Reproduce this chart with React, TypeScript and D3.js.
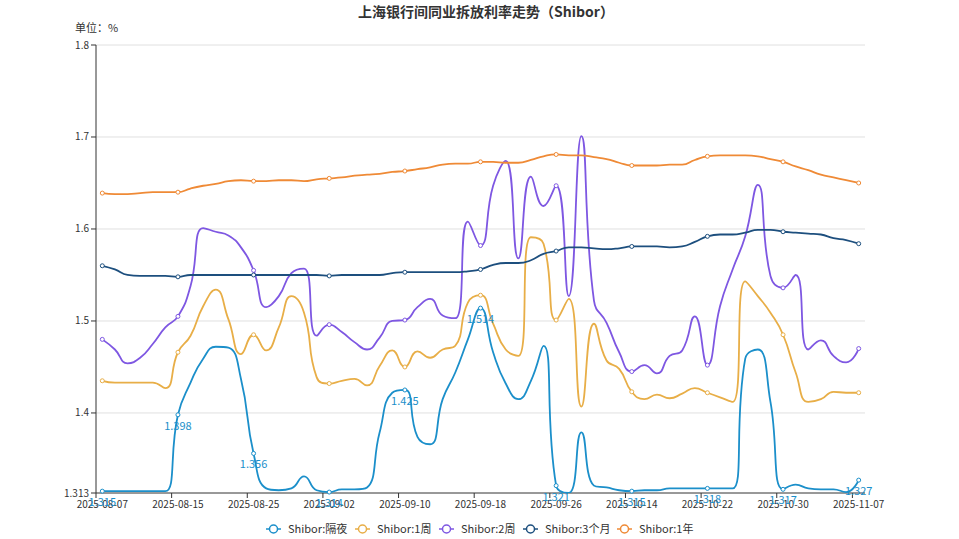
import React from "react";
import * as d3 from "d3";

const dates = [
  "2025-08-07","2025-08-08","2025-08-11","2025-08-12","2025-08-13","2025-08-14","2025-08-15",
  "2025-08-18","2025-08-19","2025-08-20","2025-08-21","2025-08-22","2025-08-25",
  "2025-08-26","2025-08-27","2025-08-28","2025-08-29","2025-09-01","2025-09-02",
  "2025-09-03","2025-09-04","2025-09-05","2025-09-08","2025-09-09","2025-09-10",
  "2025-09-11","2025-09-12","2025-09-15","2025-09-16","2025-09-17","2025-09-18",
  "2025-09-19","2025-09-22","2025-09-23","2025-09-24","2025-09-25","2025-09-26",
  "2025-09-29","2025-09-30","2025-10-09","2025-10-10","2025-10-13","2025-10-14",
  "2025-10-15","2025-10-16","2025-10-17","2025-10-20","2025-10-21","2025-10-22",
  "2025-10-23","2025-10-24","2025-10-27","2025-10-28","2025-10-29","2025-10-30",
  "2025-10-31","2025-11-03","2025-11-04","2025-11-05","2025-11-06","2025-11-07",
];

const overnight = [
  1.315,1.315,1.315,1.315,1.315,1.315,1.398,1.433,1.459,1.472,1.471,1.437,1.356,
  1.318,1.316,1.318,1.331,1.316,1.314,1.317,1.317,1.319,1.379,1.422,1.425,
  1.374,1.366,1.415,1.444,1.480,1.514,1.466,1.432,1.415,1.435,1.473,1.321,
  1.313,1.379,1.321,1.319,1.316,1.315,1.316,1.316,1.318,1.318,1.318,1.318,
  1.318,1.318,1.459,1.469,1.412,1.317,1.322,1.318,1.317,1.317,1.314,1.327,
];
const week1 = [
  1.435,1.433,1.433,1.433,1.433,1.427,1.466,1.484,1.516,1.534,1.502,1.464,1.485,
  1.468,1.493,1.527,1.509,1.439,1.432,1.435,1.437,1.430,1.451,1.468,1.450,
  1.467,1.460,1.469,1.473,1.520,1.528,1.497,1.469,1.462,1.591,1.584,1.501,
  1.524,1.407,1.497,1.457,1.448,1.423,1.415,1.420,1.416,1.421,1.427,1.422,
  1.417,1.412,1.543,1.527,1.509,1.485,1.444,1.412,1.415,1.423,1.422,1.422,
];
const week2 = [
  1.480,1.469,1.454,1.460,1.475,1.493,1.505,1.538,1.601,1.597,1.593,1.580,1.555,
  1.515,1.527,1.552,1.557,1.484,1.496,1.488,1.477,1.469,1.482,1.500,1.501,
  1.515,1.524,1.506,1.503,1.608,1.582,1.647,1.674,1.568,1.657,1.625,1.647,
  1.527,1.701,1.522,1.498,1.466,1.445,1.452,1.443,1.462,1.468,1.505,1.452,
  1.516,1.556,1.592,1.648,1.549,1.536,1.550,1.469,1.479,1.462,1.455,1.470,
];
const month3 = [
  1.560,1.556,1.550,1.549,1.549,1.549,1.548,1.550,1.550,1.550,1.550,1.550,1.550,
  1.550,1.550,1.550,1.550,1.550,1.549,1.550,1.550,1.550,1.550,1.552,1.553,
  1.553,1.553,1.553,1.553,1.554,1.556,1.561,1.563,1.563,1.566,1.573,1.576,
  1.580,1.580,1.579,1.578,1.579,1.581,1.581,1.581,1.580,1.581,1.586,1.592,
  1.594,1.594,1.596,1.599,1.599,1.597,1.596,1.595,1.594,1.590,1.588,1.584,
];
const year1 = [
  1.639,1.638,1.638,1.639,1.640,1.640,1.640,1.644,1.647,1.649,1.652,1.653,1.652,
  1.652,1.653,1.653,1.652,1.654,1.655,1.656,1.658,1.659,1.660,1.662,1.663,
  1.665,1.667,1.670,1.671,1.671,1.673,1.673,1.672,1.672,1.675,1.679,1.681,
  1.680,1.680,1.678,1.676,1.672,1.669,1.669,1.669,1.670,1.670,1.675,1.679,
  1.680,1.680,1.680,1.679,1.676,1.673,1.668,1.664,1.659,1.656,1.653,1.650,
];

const seriesNames = ["Shibor:隔夜", "Shibor:1周", "Shibor:2周", "Shibor:3个月", "Shibor:1年"];
const seriesValues = [overnight, week1, week2, month3, year1];
const seriesColors = ["#1b8fca", "#e8ae47", "#7e57e2", "#1d4f7e", "#ef8a36"];
const yTicks = [1.313, 1.4, 1.5, 1.6, 1.7, 1.8];
const title = "上海银行间同业拆放利率走势（Shibor）";
const unitLabel = "单位：%";

const W = 959, H = 539;
const left = 96, right = 865, top = 45, bottom = 493;
const FONT = "'Noto Sans CJK SC', 'Noto Sans', sans-serif";
const legendX = [266, 355, 439, 523, 617];

// ECharts-style smooth line (smooth = 0.5, clamped control points)
function smoothPath(pts: [number, number][], smooth = 0.5): string {
  const p = d3.path();
  let prevX = 0, prevY = 0, cpx0 = 0, cpy0 = 0, cpx1 = 0, cpy1 = 0;
  const n = pts.length;
  for (let k = 0; k < n; k++) {
    const [x, y] = pts[k];
    if (k === 0) {
      p.moveTo(x, y);
      cpx0 = x; cpy0 = y;
    } else {
      let nextCpx0 = x, nextCpy0 = y;
      if (k + 1 >= n) {
        cpx1 = x; cpy1 = y;
      } else {
        const [nextX, nextY] = pts[k + 1];
        let vx = nextX - prevX, vy = nextY - prevY;
        const dx0 = x - prevX, dx1 = nextX - x, dy0 = y - prevY, dy1 = nextY - y;
        const lenPrev = Math.sqrt(dx0 * dx0 + dy0 * dy0);
        const lenNext = Math.sqrt(dx1 * dx1 + dy1 * dy1);
        const ratio = lenNext / (lenNext + lenPrev);
        nextCpx0 = x + vx * smooth * ratio;
        nextCpy0 = y + vy * smooth * ratio;
        nextCpx0 = Math.min(nextCpx0, Math.max(nextX, x));
        nextCpy0 = Math.min(nextCpy0, Math.max(nextY, y));
        nextCpx0 = Math.max(nextCpx0, Math.min(nextX, x));
        nextCpy0 = Math.max(nextCpy0, Math.min(nextY, y));
        vx = nextCpx0 - x; vy = nextCpy0 - y;
        cpx1 = x - vx * lenPrev / lenNext;
        cpy1 = y - vy * lenPrev / lenNext;
        cpx1 = Math.min(cpx1, Math.max(prevX, x));
        cpy1 = Math.min(cpy1, Math.max(prevY, y));
        cpx1 = Math.max(cpx1, Math.min(prevX, x));
        cpy1 = Math.max(cpy1, Math.min(prevY, y));
        vx = x - cpx1; vy = y - cpy1;
        nextCpx0 = x + vx * lenNext / lenPrev;
        nextCpy0 = y + vy * lenNext / lenPrev;
      }
      p.bezierCurveTo(cpx0, cpy0, cpx1, cpy1, x, y);
      cpx0 = nextCpx0; cpy0 = nextCpy0;
    }
    prevX = x; prevY = y;
  }
  return p.toString();
}

export default function App() {
  const x = d3.scaleBand<string>().domain(dates).range([left, right]);
  const bw = x.bandwidth();
  const cx = (d: string) => (x(d) as number) + bw / 2;
  const y = d3.scaleLinear().domain([1.313, 1.8]).range([bottom, top]);
  const labelIdx = dates.map((_, i) => i).filter((i) => i % 6 === 0);

  return (
    <svg width={W} height={H} style={{ position: "absolute", left: 0, top: 0, background: "#fff" }} fontFamily={FONT}>
      <defs>
        <clipPath id="plot">
          <rect x={left} y={top - 5} width={right - left} height={bottom - top + 5} />
        </clipPath>
      </defs>
      <text x={486} y={17} textAnchor="middle" fontSize={14} fontWeight="bold" fill="#333">{title}</text>
      <text x={75} y={32} fontSize={11} fill="#333">{unitLabel}</text>

      {yTicks.filter((t) => t !== 1.313).map((t) => (
        <line key={t} x1={left} x2={right} y1={y(t)} y2={y(t)} stroke="#e0e0e0" strokeWidth={1} />
      ))}
      {yTicks.map((t) => (
        <g key={"yt" + t}>
          <line x1={left - 5} x2={left} y1={y(t)} y2={y(t)} stroke="#333" />
          <text x={left - 7} y={y(t)} dy="0.35em" textAnchor="end" fontSize={10} fill="#333">{t === 1.313 ? "1.313" : d3.format(".1f")(t)}</text>
        </g>
      ))}
      <line x1={left} x2={left} y1={top} y2={bottom} stroke="#333" />
      <line x1={left} x2={right} y1={bottom} y2={bottom} stroke="#333" />
      {labelIdx.map((i) => (
        <g key={"xt" + i}>
          <line x1={x(dates[i]) as number} x2={x(dates[i]) as number} y1={bottom} y2={bottom + 5} stroke="#333" />
          <text x={cx(dates[i])} y={bottom + 15} textAnchor="middle" fontSize={10} fill="#333">{dates[i]}</text>
        </g>
      ))}

      <g clipPath="url(#plot)">
        {seriesValues.map((vals, s) => (
          <path key={"l" + s} d={smoothPath(vals.map((v, i) => [cx(dates[i]), y(v)] as [number, number]))}
            fill="none" stroke={seriesColors[s]} strokeWidth={1.8} />
        ))}
      </g>
      {seriesValues.map((vals, s) => (
        <g key={"s" + s}>
          {labelIdx.map((i) => (
            <circle key={i} cx={cx(dates[i])} cy={y(vals[i])} r={2} fill="#fff" stroke={seriesColors[s]} strokeWidth={1} />
          ))}
        </g>
      ))}
      {labelIdx.map((i) => (
        <text key={"dl" + i} x={cx(dates[i])} y={y(overnight[i]) + 15} textAnchor="middle" fontSize={11} fill={seriesColors[0]}>
          {overnight[i].toFixed(3)}
        </text>
      ))}

      {seriesNames.map((name, s) => (
        <g key={"lg" + s} transform={`translate(${legendX[s]},529)`}>
          <line x1={0} x2={15} y1={0} y2={0} stroke={seriesColors[s]} strokeWidth={1.5} />
          <circle cx={7.5} cy={0} r={4} fill="#fff" stroke={seriesColors[s]} strokeWidth={1.5} />
          <text x={22} y={0} dy="0.35em" fontSize={11} fill="#333">{name}</text>
        </g>
      ))}
    </svg>
  );
}
